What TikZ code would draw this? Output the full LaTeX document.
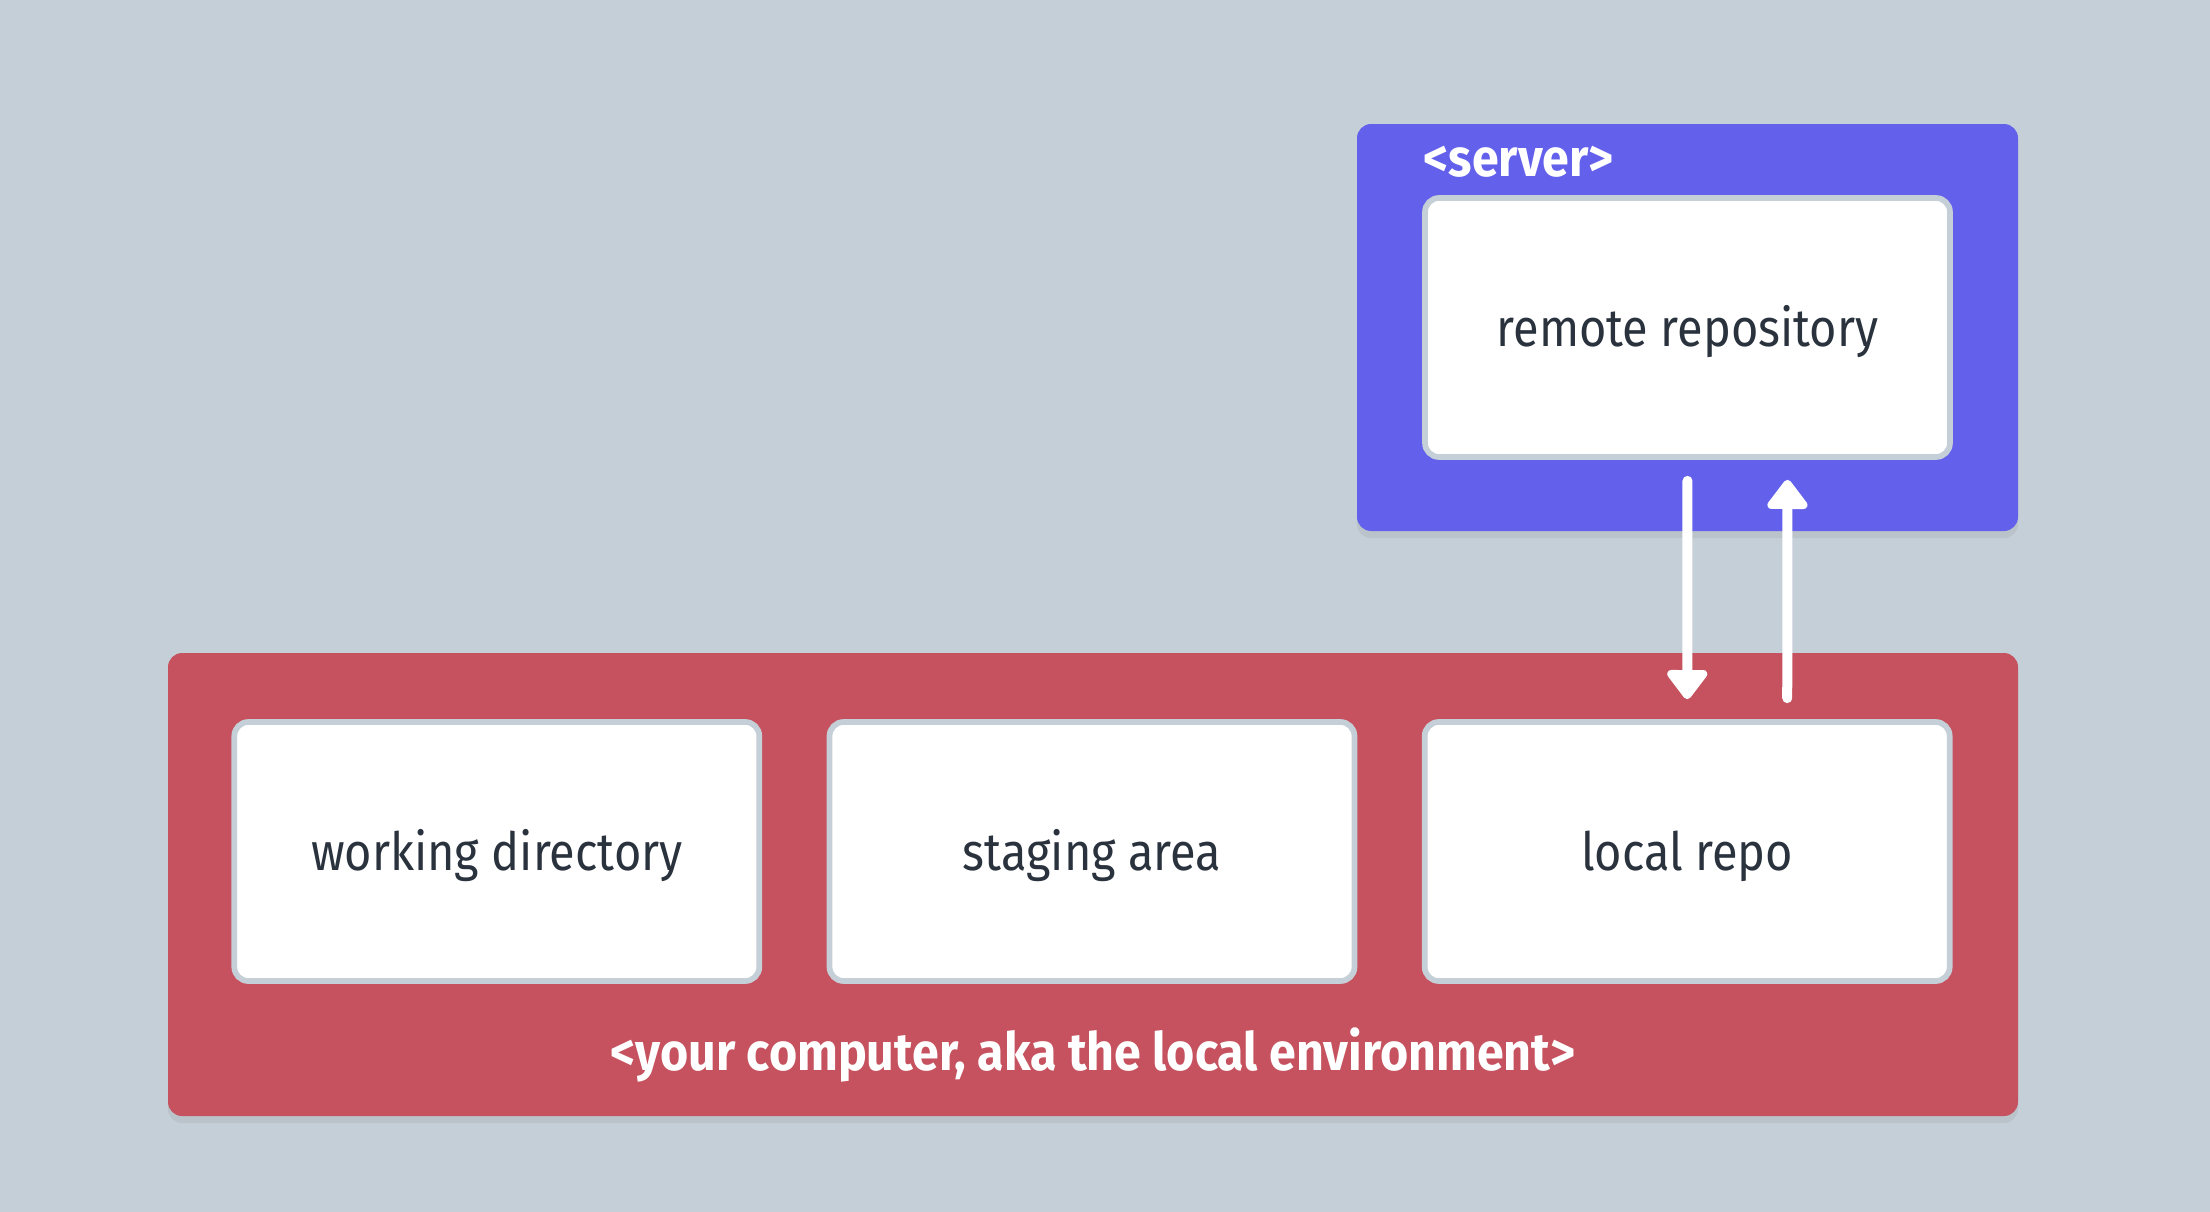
\documentclass[tikz,border=0pt]{standalone}
\usepackage{fontspec}
\setmainfont{Fira Sans}[FakeStretch=0.89, BoldFeatures={FakeStretch=0.917}]
\usetikzlibrary{positioning, arrows.meta, shadows}

\definecolor{bgcol}{HTML}{C5CFD8}
\definecolor{servercol}{HTML}{6360EB}
\definecolor{localcol}{HTML}{C5525E}
\definecolor{inkcol}{HTML}{29323D}

\begin{document}
\begin{tikzpicture}[
  node distance=0.645cm,
  area/.style={
    rectangle, rounded corners=4pt, inner sep=0pt,
    drop shadow={shadow xshift=0pt, shadow yshift=-2pt, opacity=0.15}},
  stage/.style={
    rectangle, rounded corners=4pt, draw=bgcol, line width=0.057cm,
    fill=white, minimum width=5.25cm, minimum height=2.59cm,
    text height=0.38cm, text depth=0pt,
    align=center, text=inkcol, font=\fontsize{15}{17}\selectfont},
  tag/.style={
    inner sep=0pt, text=white, font=\bfseries\fontsize{15}{17}\selectfont},
  flow/.style={
    draw=white, line width=0.1cm, line cap=round,
    -{Triangle[width=0.46cm, length=0.32cm, round]}},
]

  % ── Canvas ──────────────────────────────────────────────────────────────
  \fill[bgcol] (0,0) rectangle (22.10,-12.12);

  % ── Local environment ───────────────────────────────────────────────────
  \node[area, fill=localcol, minimum width=18.50cm, minimum height=4.63cm]
      (env) at (10.93,-8.845) {};
  \node[stage] (staging) at (10.92,-8.515) {staging area};
  \node[stage, left=of staging]  (workdir)   {working directory};
  \node[stage, right=of staging] (localrepo) {local repo};
  \node[tag, anchor=base] (envtag) at (10.93,-10.70)
      {<your computer, aka the local environment>};

  % ── Server ──────────────────────────────────────────────────────────────
  \node[area, fill=servercol, minimum width=6.61cm, minimum height=4.07cm]
      (server) at (16.875,-3.275) {};
  \node[stage] (remote) at (server.center) {remote repository};
  \node[tag, anchor=base west] (servertag) at (14.23,-1.76) {<server>};

  % ── Pull / push ─────────────────────────────────────────────────────────
  \draw[flow, shorten <=0.21cm, shorten >=0.2cm]
      (remote.south) -- (localrepo.north);
  \draw[flow, shorten <=0.21cm, shorten >=0.2cm]
      ([xshift=1cm]localrepo.north) -- ([xshift=1cm]remote.south);

\end{tikzpicture}
\end{document}
